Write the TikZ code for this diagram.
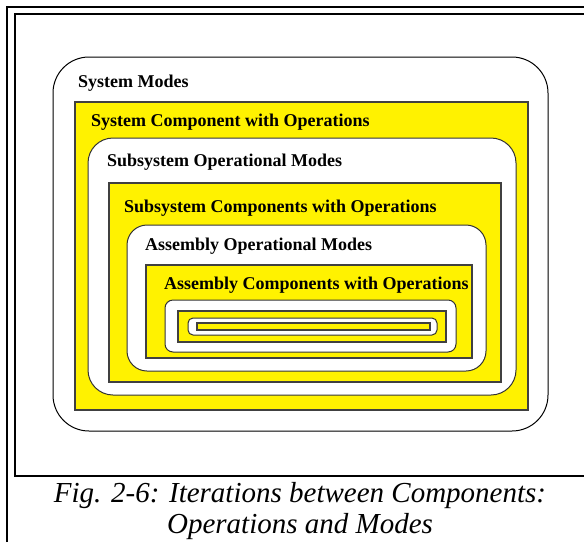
\documentclass[tikz,border=0pt]{standalone}
\usepackage{fontspec}
\setmainfont{Liberation Serif}
\begin{document}
\begin{tikzpicture}[x=1pt, y=-1pt]
    \tikzstyle{frame_style}=[line width=1.7pt]
    \tikzstyle{modes_style}=[rectangle, draw=black!80, line width=1pt, fill=white, inner sep=0pt]
    \tikzstyle{comp_style}=[rectangle, draw=black!75, line width=1.2pt, fill=yellow, inner sep=0pt]
    \tikzstyle{label_style}=[anchor=base west, inner sep=0pt, font=\fontsize{18}{20}\selectfont\bfseries]
    \tikzstyle{caption_style}=[anchor=base, inner sep=0pt, font=\fontsize{29}{27}\selectfont\itshape]

    \useasboundingbox (0,0) rectangle (584,542);

    % frames
    \coordinate (frame_a) at (7,542);
    \coordinate (frame_b) at (7,7);
    \coordinate (frame_c) at (584,7);
    \draw[frame_style] (frame_a) -- (frame_b) -- (frame_c);
    \coordinate (inner_a) at (584,14);
    \coordinate (inner_b) at (15,14);
    \coordinate (inner_c) at (15,476);
    \coordinate (inner_d) at (584,476);
    \draw[frame_style] (inner_a) -- (inner_b) -- (inner_c) -- (inner_d);

    % system level
    \draw node at (300.5, 244) [modes_style, draw=black, rounded corners=36pt, minimum width=495pt, minimum height=374pt] (system_modes) {};
    \draw node at (301.5, 256) [comp_style, minimum width=453pt, minimum height=308pt] (system_comp) {};

    % subsystem level
    \draw node at (302, 266.5) [modes_style, rounded corners=25pt, minimum width=428pt, minimum height=257pt] (subsystem_modes) {};
    \draw node at (305, 282.5) [comp_style, minimum width=392pt, minimum height=199pt] (subsystem_comp) {};

    % assembly level
    \draw node at (306.5, 298) [modes_style, rounded corners=20pt, minimum width=359pt, minimum height=146pt] (assembly_modes) {};
    \draw node at (309, 311.5) [comp_style, minimum width=326pt, minimum height=93pt] (assembly_comp) {};

    % lower levels
    \draw node at (310.5, 326) [modes_style, rounded corners=8pt, minimum width=291pt, minimum height=52pt] (part_modes) {};
    \draw node at (312, 326.5) [comp_style, minimum width=268pt, minimum height=31pt] (part_comp) {};
    \draw node at (312.5, 326.5) [modes_style, rounded corners=5pt, minimum width=249pt, minimum height=17pt] (core_modes) {};
    \draw node at (313.5, 326.5) [comp_style, minimum width=233pt, minimum height=7pt] (core_comp) {};

    % labels
    \node at (78, 87) [label_style] (system_modes_lbl) {System Modes};
    \node at (91, 126) [label_style] (system_comp_lbl) {System Component with Operations};
    \node at (107, 166) [label_style] (subsystem_modes_lbl) {Subsystem Operational Modes};
    \node at (124, 212) [label_style] (subsystem_comp_lbl) {Subsystem Components with Operations};
    \node at (145, 250) [label_style] (assembly_modes_lbl) {Assembly Operational Modes};
    \node at (164, 289) [label_style] (assembly_comp_lbl) {Assembly Components with Operations};

    % caption
    \node at (300, 502) [caption_style] (caption_a) {Fig. 2-6: Iterations between Components:};
    \node at (300, 533) [caption_style] (caption_b) {Operations and Modes};
\end{tikzpicture}
\end{document}
